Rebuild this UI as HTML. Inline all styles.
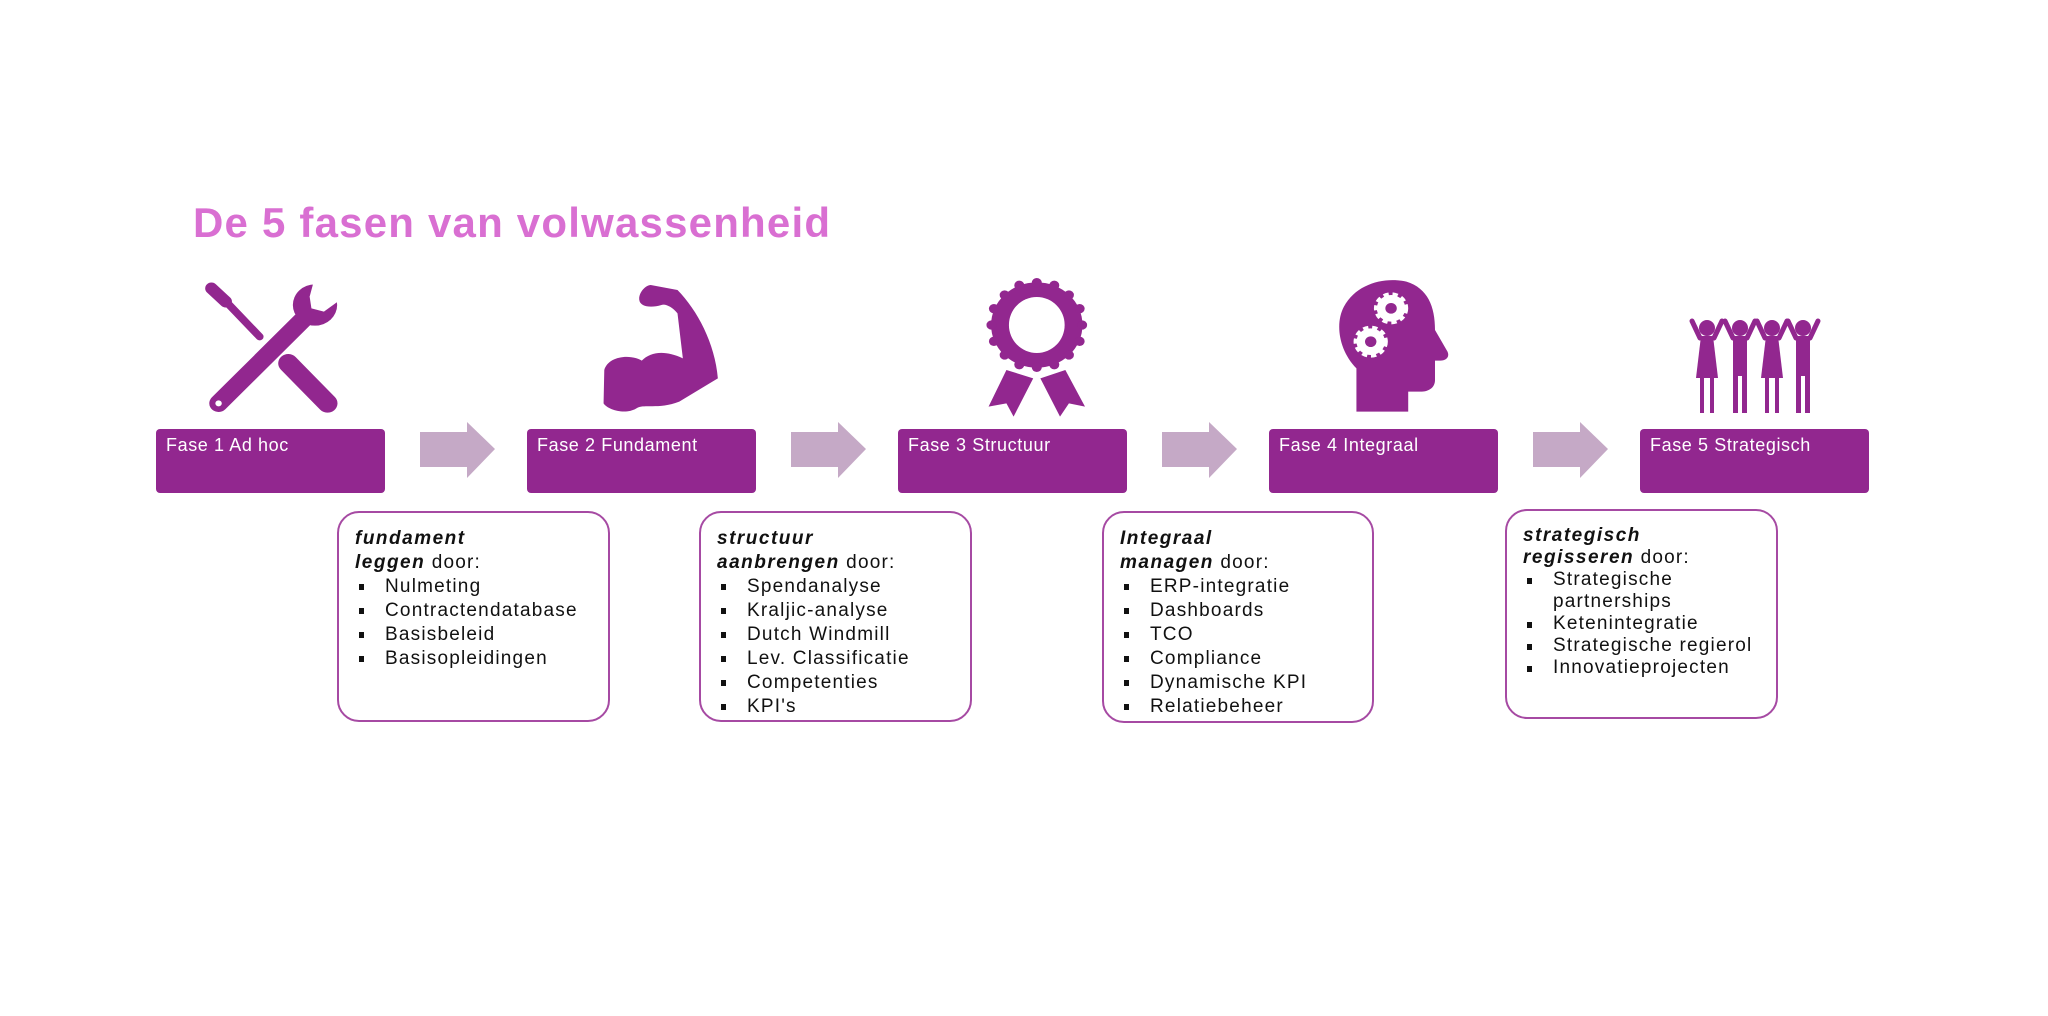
<!DOCTYPE html>
<html><head><meta charset="utf-8"><style>
body{margin:0;width:2048px;height:1016px;background:#fff;position:relative;overflow:hidden;font-family:"Liberation Sans",sans-serif}
.t{position:absolute;left:193px;top:199px;font-size:42px;font-weight:bold;color:#d96fd2;white-space:nowrap;letter-spacing:1.2px}
.f{position:absolute;top:429px;width:229px;height:64px;background:#92278f;border-radius:4px;color:#fff;font-size:18px;box-sizing:border-box;padding:6px 0 0 10px;letter-spacing:0.6px}
.c{position:absolute;border:2px solid #a64aa3;border-radius:22px;box-sizing:border-box;padding:14px 0 0 16px;font-size:19px;letter-spacing:1.2px;line-height:24px;color:#111}
.c b{font-style:italic;letter-spacing:1.5px}
.c ul{margin:0;padding:0;list-style:none}
.c li{position:relative;padding-left:30px}
.c li:before{content:"";position:absolute;left:4px;top:9px;width:5px;height:6px;background:#111}
</style></head><body>
<div class="t">De 5 fasen van volwassenheid</div>

<svg style="position:absolute;left:0;top:0" width="2048" height="1016">
<g fill="#c5a9c6">
<polygon points="420,432 467,432 467,422 495,449 467,478 467,467 420,467"/>
<polygon points="791,432 838,432 838,422 866,449 838,478 838,467 791,467"/>
<polygon points="1162,432 1209,432 1209,422 1237,449 1209,478 1209,467 1162,467"/>
<polygon points="1533,432 1580,432 1580,422 1608,449 1580,478 1580,467 1533,467"/>
</g>
</svg>

<svg style="position:absolute;left:190px;top:270px" width="560" height="160" viewBox="0 0 1568 480" preserveAspectRatio="none">
<g fill="#92278f" stroke="#92278f" stroke-linecap="round">
<line x1="110" y1="105" x2="195" y2="200" stroke-width="22"/>
<line x1="60" y1="55" x2="100" y2="95" stroke-width="35"/>
<line x1="80" y1="400" x2="320" y2="145" stroke-width="52"/>
<circle cx="350" cy="105" r="62" stroke="none"/>
<line x1="275" y1="280" x2="385" y2="400" stroke-width="56"/>
</g>
<polygon points="345,40 420,40 420,90 375,125 340,115 335,80" fill="#fff"/>
<circle cx="80" cy="400" r="9" fill="#fff"/>
<path fill="#92278f" d="M1160,300 C1170,260 1230,250 1265,272 C1290,245 1330,240 1380,265 L1365,130 C1350,110 1330,100 1320,105 C1290,115 1260,110 1258,90 C1255,70 1275,45 1290,45 L1365,60 C1420,120 1470,220 1478,325 L1370,395 C1310,420 1270,400 1250,415 C1220,435 1170,420 1158,400 Z"/>
</svg>

<svg style="position:absolute;left:960px;top:270px" width="560" height="160" viewBox="0 0 1568 480" preserveAspectRatio="none">
<g fill="#92278f">
<circle cx="215" cy="165" r="128"/>
<circle cx="215" cy="38" r="14"/><circle cx="215" cy="292" r="14"/>
<circle cx="88" cy="165" r="14"/><circle cx="342" cy="165" r="14"/>
<circle cx="125" cy="75" r="14"/><circle cx="305" cy="75" r="14"/>
<circle cx="125" cy="255" r="14"/><circle cx="305" cy="255" r="14"/>
<circle cx="166" cy="46" r="14"/><circle cx="264" cy="46" r="14"/>
<circle cx="166" cy="284" r="14"/><circle cx="264" cy="284" r="14"/>
<circle cx="95" cy="116" r="14"/><circle cx="335" cy="116" r="14"/>
<circle cx="95" cy="214" r="14"/><circle cx="335" cy="214" r="14"/>
<polygon points="130,300 205,325 150,440 130,400 80,410"/>
<polygon points="225,325 295,300 350,410 305,400 280,440"/>
<path d="M1110,295 C1060,240 1050,160 1075,110 C1110,40 1190,20 1250,35 C1310,55 1330,110 1330,180 L1365,245 C1372,262 1360,272 1345,272 L1330,272 L1330,330 C1330,355 1310,365 1290,365 L1255,365 L1255,425 L1110,425 Z"/>
</g>
<ellipse cx="215" cy="165" rx="78" ry="84" fill="#fff"/>
<g fill="#fff" stroke="#fff" stroke-width="16" stroke-dasharray="14 10">
<circle cx="1207" cy="115" r="40"/><circle cx="1150" cy="215" r="40"/>
</g>
<circle cx="1207" cy="115" r="16" fill="#92278f"/><circle cx="1150" cy="215" r="16" fill="#92278f"/>
</svg>

<svg style="position:absolute;left:1680px;top:316px" width="150" height="100">
<g fill="#92278f" stroke="#92278f" stroke-linecap="round">
<g><circle cx="27" cy="12" r="8" stroke="none"/><line x1="20" y1="22" x2="12" y2="5" stroke-width="5"/><line x1="34" y1="22" x2="42" y2="5" stroke-width="5"/><polygon points="21,20 33,20 38,62 16,62" stroke="none"/><rect x="20" y="60" width="4" height="37" stroke="none"/><rect x="30" y="60" width="4" height="37" stroke="none"/></g>
<g><circle cx="60" cy="12" r="8" stroke="none"/><line x1="53" y1="22" x2="45" y2="5" stroke-width="5"/><line x1="67" y1="22" x2="75" y2="5" stroke-width="5"/><rect x="53" y="20" width="14" height="40" stroke="none"/><rect x="53" y="58" width="5" height="39" stroke="none"/><rect x="62" y="58" width="5" height="39" stroke="none"/></g>
<g><circle cx="92" cy="12" r="8" stroke="none"/><line x1="85" y1="22" x2="77" y2="5" stroke-width="5"/><line x1="99" y1="22" x2="107" y2="5" stroke-width="5"/><polygon points="86,20 98,20 103,62 81,62" stroke="none"/><rect x="85" y="60" width="4" height="37" stroke="none"/><rect x="95" y="60" width="4" height="37" stroke="none"/></g>
<g><circle cx="123" cy="12" r="8" stroke="none"/><line x1="116" y1="22" x2="108" y2="5" stroke-width="5"/><line x1="130" y1="22" x2="138" y2="5" stroke-width="5"/><rect x="116" y="20" width="14" height="40" stroke="none"/><rect x="116" y="58" width="5" height="39" stroke="none"/><rect x="125" y="58" width="5" height="39" stroke="none"/></g>
</g>
</svg>

<div class="f" style="left:156px">Fase 1 Ad hoc</div>
<div class="f" style="left:527px">Fase 2 Fundament</div>
<div class="f" style="left:898px">Fase 3 Structuur</div>
<div class="f" style="left:1269px">Fase 4 Integraal</div>
<div class="f" style="left:1640px">Fase 5 Strategisch</div>

<div class="c" style="left:337px;top:511px;width:273px;height:211px"><b>fundament<br>leggen</b> door:<ul><li>Nulmeting</li><li>Contractendatabase</li><li>Basisbeleid</li><li>Basisopleidingen</li></ul></div>
<div class="c" style="left:699px;top:511px;width:273px;height:211px"><b>structuur<br>aanbrengen</b> door:<ul><li>Spendanalyse</li><li>Kraljic-analyse</li><li>Dutch Windmill</li><li>Lev. Classificatie</li><li>Competenties</li><li>KPI's</li></ul></div>
<div class="c" style="left:1102px;top:511px;width:272px;height:212px"><b>Integraal<br>managen</b> door:<ul><li>ERP-integratie</li><li>Dashboards</li><li>TCO</li><li>Compliance</li><li>Dynamische KPI</li><li>Relatiebeheer</li></ul></div>
<div class="c" style="left:1505px;top:509px;width:273px;height:210px;line-height:22px"><b>strategisch<br>regisseren</b> door:<ul><li>Strategische<br>partnerships</li><li>Ketenintegratie</li><li>Strategische regierol</li><li>Innovatieprojecten</li></ul></div>
</body></html>
